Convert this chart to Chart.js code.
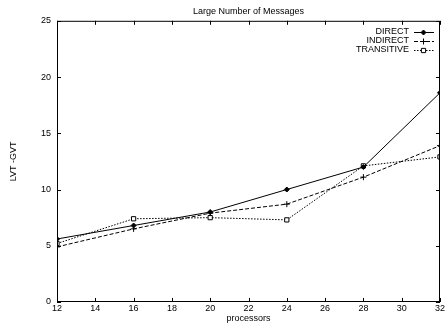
<!DOCTYPE html>
<html>
<head>
<meta charset="utf-8">
<script src="https://cdn.jsdelivr.net/npm/chart.js@4/dist/chart.umd.min.js"></script>
<style>
  html, body { margin: 0; padding: 0; background: #fff; }
  canvas { display: block; }
</style>
</head>
<body>
<canvas id="myCanvas" width="445" height="324"></canvas>
<script>
// values
const processors = [12, 16, 20, 24, 28, 32];
const direct = [5.6, 6.8, 8.0, 10.0, 12.0, 18.6];
const indirect = [4.9, 6.5, 7.9, 8.7, 11.1, 13.9];
const transitive = [5.2, 7.4, 7.5, 7.3, 12.1, 12.9];

function pts(arr) {
  return processors.map((p, i) => ({ x: p, y: arr[i] }));
}

// gnuplot-like frame, inward ticks and legend inside the plot
const framePlugin = {
  id: "frame",
  afterDraw(chart) {
    const ctx = chart.ctx;
    const a = chart.chartArea;
    const xs = chart.scales.x, ys = chart.scales.y;
    ctx.save();
    ctx.strokeStyle = "#000";
    ctx.lineWidth = 1;
    ctx.strokeRect(a.left + 0.5, a.top + 0.5, a.right - a.left - 1, a.bottom - a.top - 1);
    ctx.beginPath();
    xs.ticks.forEach(t => {
      const px = Math.round(xs.getPixelForValue(t.value)) + 0.5;
      ctx.moveTo(px, a.bottom); ctx.lineTo(px, a.bottom - 4);
      ctx.moveTo(px, a.top); ctx.lineTo(px, a.top + 4);
    });
    ys.ticks.forEach(t => {
      const py = Math.round(ys.getPixelForValue(t.value)) + 0.5;
      ctx.moveTo(a.left, py); ctx.lineTo(a.left + 4, py);
      ctx.moveTo(a.right, py); ctx.lineTo(a.right - 4, py);
    });
    ctx.stroke();

    // legend
    ctx.font = "9px 'Liberation Sans', Arial, sans-serif";
    ctx.textAlign = "right";
    ctx.textBaseline = "middle";
    ctx.fillStyle = "#000";
    chart.data.datasets.forEach((ds, i) => {
      const y = 32 + i * 9;
      ctx.fillText(ds.label, 409, y);
      ctx.beginPath();
      ctx.setLineDash(ds.borderDash || []);
      ctx.moveTo(414, y + 0.5);
      ctx.lineTo(434, y + 0.5);
      ctx.stroke();
      ctx.setLineDash([]);
      ctx.fillStyle = ds.pointBackgroundColor || "#000";
      Chart.helpers.drawPoint(ctx, {
        pointStyle: ds.pointStyle,
        radius: ds.pointRadius,
        borderWidth: 1
      }, 423.5, y + 0.5);
      ctx.fillStyle = "#000";
    });
    ctx.restore();
  }
};

const font9 = { family: "'Liberation Sans', Arial, sans-serif", size: 9 };

new Chart(document.getElementById("myCanvas"), {
  type: "line",
  data: {
    datasets: [
      {
        label: "DIRECT",
        data: pts(direct),
        borderColor: "#000",
        backgroundColor: "#000",
        borderWidth: 1,
        pointStyle: "rectRot",
        pointRadius: 2.5,
        pointBorderColor: "#000",
        pointBackgroundColor: "#000"
      },
      {
        label: "INDIRECT",
        data: pts(indirect),
        borderColor: "#000",
        backgroundColor: "#000",
        borderWidth: 1,
        borderDash: [4, 2],
        pointStyle: "cross",
        pointRadius: 3,
        pointBorderColor: "#000"
      },
      {
        label: "TRANSITIVE",
        data: pts(transitive),
        borderColor: "#000",
        backgroundColor: "#fff",
        borderWidth: 1,
        borderDash: [1.5, 1.5],
        pointStyle: "rect",
        pointRadius: 3,
        pointBorderColor: "#000",
        pointBackgroundColor: "#fff"
      }
    ]
  },
  plugins: [framePlugin],
  options: {
    responsive: false,
    animation: false,
    layout: { padding: { left: 0, right: 1, top: 0, bottom: 0 } },
    plugins: {
      legend: { display: false },
      tooltip: { enabled: false },
      title: {
        display: true,
        text: "Large Number of Messages",
        fullSize: false,
        color: "#000",
        font: { ...font9, weight: "normal" },
        padding: { top: 6, bottom: 4 }
      }
    },
    scales: {
      x: {
        type: "linear",
        min: 12,
        max: 32,
        grid: { display: false, drawTicks: false, tickLength: 0 },
        border: { display: false },
        ticks: {
          stepSize: 2,
          color: "#000",
          padding: 1,
          maxRotation: 0,
          font: font9
        },
        title: {
          display: true,
          text: "processors",
          color: "#000",
          padding: 0,
          font: font9
        },
        afterFit: s => { s.height = 22; s.paddingLeft = 0; s.paddingRight = 0; }
      },
      y: {
        min: 0,
        max: 25,
        grid: { display: false, drawTicks: false, tickLength: 0 },
        border: { display: false },
        ticks: {
          stepSize: 5,
          color: "#000",
          padding: 6,
          font: font9
        },
        title: {
          display: true,
          text: "LVT -GVT",
          color: "#000",
          padding: { top: 8, bottom: 0 },
          font: font9
        },
        afterFit: s => { s.width = 57; s.paddingTop = 0; s.paddingBottom = 0; }
      }
    }
  }
});
</script>
</body>
</html>
